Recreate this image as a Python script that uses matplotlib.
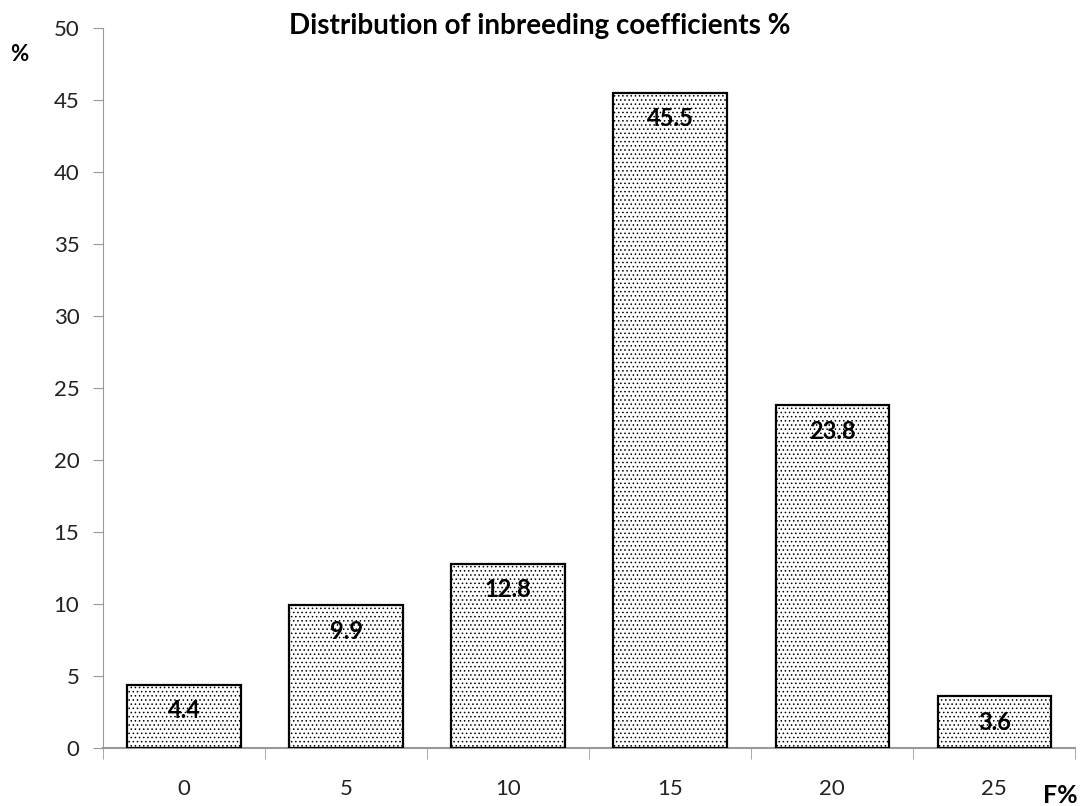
import matplotlib
matplotlib.use("Agg")
import matplotlib.pyplot as plt
import numpy as np

categories = ["0", "5", "10", "15", "20", "25"]
values = [4.4, 9.9, 12.8, 45.5, 23.8, 3.6]
yticks = [0, 5, 10, 15, 20, 25, 30, 35, 40, 45, 50]

plt.rcParams['font.family'] = ['Lato', 'DejaVu Sans']
plt.rcParams['hatch.color'] = '#cccccc'
plt.rcParams['hatch.linewidth'] = 0.6

fig = plt.figure(figsize=(10.84, 8.06), dpi=100)
ax = fig.add_axes([0.095, 0.072, 0.897, 0.893])

x = np.arange(len(categories))
bars = ax.bar(x, values, width=0.7, facecolor='white', edgecolor='black',
              linewidth=1.6, hatch='....', zorder=3)
for xi, v in zip(x, values):
    ax.text(xi, v - 1.8, f"{v}", ha='center', va='center', fontsize=17,
            fontweight='bold', color='black', zorder=4)

ax.set_xlim(-0.5, len(categories) - 0.5)
ax.set_ylim(0, 50)
ax.set_yticks(yticks)
ax.set_yticklabels([str(t) for t in yticks], fontsize=16, color='#222222')
ax.set_xticks(x)
ax.set_xticklabels(categories, fontsize=16, color='#222222')
ax.set_xticks(np.arange(-0.5, len(categories)), minor=True)
ax.tick_params(axis='x', which='major', length=0, pad=22)
ax.tick_params(axis='x', which='minor', length=8, color='#999999', direction='out')
ax.tick_params(axis='y', length=7, color='#999999', direction='out', pad=10)

for s in ['top', 'right']:
    ax.spines[s].set_visible(False)
ax.spines['left'].set_color('#999999')
ax.spines['bottom'].set_color('#999999')
ax.spines['bottom'].set_linewidth(1.5)

fig.text(0.498, 0.968, "Distribution of inbreeding coefficients %", ha='center',
         va='center', fontsize=20, fontweight='bold')
fig.text(0.018, 0.932, "%", ha='center', va='center', fontsize=16, fontweight='bold')
fig.text(0.978, 0.013, "F%", ha='center', va='center', fontsize=18, fontweight='bold')

fig.savefig("out.png", dpi=100)
